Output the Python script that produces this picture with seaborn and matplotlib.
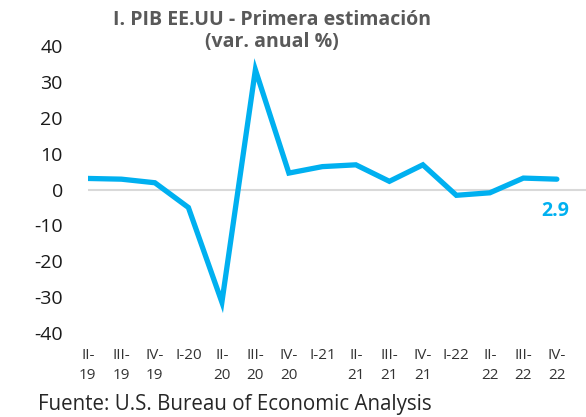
import numpy as np
import pandas as pd
import matplotlib
matplotlib.use("Agg")
import matplotlib.pyplot as plt
import seaborn as sns

# quarters and first-estimate GDP growth (%)
quarters = ["II-\n19", "III-\n19", "IV-\n19", "I-20", "II-\n20", "III-\n20", "IV-\n20",
            "I-21", "II-\n21", "III-\n21", "IV-\n21", "I-22", "II-\n22", "III-\n22", "IV-\n22"]
gdp = [3.1, 2.9, 1.9, -5.0, -31.4, 33.4, 4.6, 6.4, 6.9, 2.3, 6.9, -1.6, -0.9, 3.2, 2.9]
yticks = [-40, -30, -20, -10, 0, 10, 20, 30, 40]

sns.set_theme(style="white")
plt.rcParams['font.family'] = ['Open Sans', 'DejaVu Sans']

df = pd.DataFrame({'pos': np.arange(len(quarters)), 'gdp': gdp})

fig = plt.figure(figsize=(5.86, 4.17), dpi=100)
ax = fig.add_axes([0.150, 0.2014, 0.85, 0.688])

ax.axhline(0, color='#D9D9D9', lw=1.5, zorder=1)
sns.lineplot(data=df, x='pos', y='gdp', color='#00B0F0', lw=3.8, ax=ax, zorder=3,
             solid_capstyle='round', solid_joinstyle='miter')

ax.set_xlim(0, 14.87)
ax.set_ylim(-40, 40)
ax.set_yticks(yticks)
ax.set_yticklabels([str(v) for v in yticks], fontsize=14, color='#1a1a1a')
ax.tick_params(axis='y', length=0, pad=18)
ax.set_xticks(df['pos'])
ax.set_xticklabels(quarters, fontsize=11, color='#333333', linespacing=1.45)
ax.tick_params(axis='x', length=0, pad=11)
ax.set_xlabel('')
ax.set_ylabel('')
for s in ax.spines.values():
    s.set_visible(False)

ax.annotate(f"{gdp[-1]}", xy=(df['pos'].iloc[-1], gdp[-1]), xytext=(-1.5, -23),
            textcoords='offset points', ha='center', va='center',
            fontsize=14, fontweight='bold', color='#00B0F0')

fig.text(0.464, 0.952, "I. PIB EE.UU - Primera estimación", ha='center', va='center',
         fontsize=14, fontweight='bold', color='#595959')
fig.text(0.464, 0.900, "(var. anual %)", ha='center', va='center',
         fontsize=14, fontweight='bold', color='#595959')
fig.text(0.065, 0.031, "Fuente: U.S. Bureau of Economic Analysis", ha='left', va='center',
         fontsize=14.8, color='#262626')

fig.savefig('out.png', dpi=100)
